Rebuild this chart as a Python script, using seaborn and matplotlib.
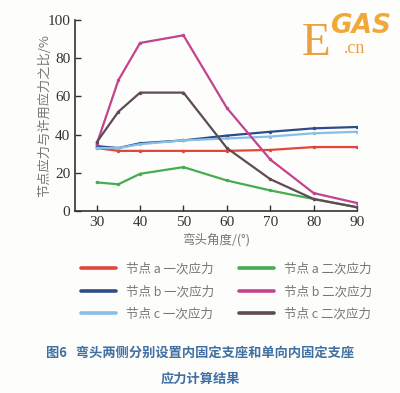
import matplotlib.pyplot as plt
import pandas as pd
import seaborn as sns

# data
angles = [30, 35, 40, 50, 60, 70, 80, 90]
a_primary = [33, 31.5, 31.5, 31.5, 31.5, 32, 33.5, 33.5]
a_secondary = [15, 14, 19.5, 23, 16, 10.8, 6.3, 2]
b_primary = [34, 33, 35.5, 37, 39.5, 41.5, 43.3, 44]
b_secondary = [35, 68.5, 88, 92, 54, 27, 9.4, 4.2]
c_primary = [33, 33, 35, 37, 38, 39, 40.7, 41.5]
c_secondary = [36, 52, 62, 62, 33, 16.7, 6.3, 2]

x_ticks = [30, 40, 50, 60, 70, 80, 90]
y_ticks = [0, 20, 40, 60, 80, 100]

labels = ["节点 a 一次应力", "节点 b 一次应力", "节点 c 一次应力",
          "节点 a 二次应力", "节点 b 二次应力", "节点 c 二次应力"]
series = [a_primary, b_primary, c_primary, a_secondary, b_secondary, c_secondary]
colors = ["#e2453a", "#2c4d86", "#86c0e6", "#45ad4f", "#c2448e", "#5e4b55"]

rows = []
for lab, vals in zip(labels, series):
    for x, v in zip(angles, vals):
        rows.append({"angle": x, "ratio": v, "series": lab})
df = pd.DataFrame(rows)

sns.set_style("ticks")
plt.rcParams['font.family'] = ['Noto Sans CJK SC', 'DejaVu Sans']

fig = plt.figure(figsize=(4, 3.93), dpi=100)
fig.patch.set_facecolor("#fdfdfb")
ax = fig.add_axes([0.1875, 0.463, 0.705, 0.486])
ax.set_facecolor("#fdfdfb")

sns.lineplot(data=df, x="angle", y="ratio", hue="series", hue_order=labels,
             palette=colors, marker="o", markersize=2.5, markeredgewidth=0,
             linewidth=1.6, ax=ax, legend=False)

ax.set_xlim(25, 90)
ax.set_ylim(0, 100)
ax.set_xticks(x_ticks)
ax.set_xticklabels([str(v) for v in x_ticks], fontfamily="Liberation Serif",
                   fontsize=11, color="#555555")
ax.set_yticks(y_ticks)
ax.set_yticklabels([str(v) for v in y_ticks], fontfamily="Liberation Serif",
                   fontsize=11, color="#555555")
sns.despine(ax=ax)
for s in ["left", "bottom"]:
    ax.spines[s].set_linewidth(1.2)
    ax.spines[s].set_color("#333333")
ax.tick_params(direction="in", length=4, width=1, colors="#333333")
ax.set_xlabel("弯头角度/(°)", fontsize=9, color="#777777", labelpad=3)
ax.set_ylabel("节点应力与许用应力之比/%", fontsize=9.5, color="#777777", labelpad=-3)

# legend in two columns below the axes
handles = [plt.Line2D([], [], color=c, linewidth=2.6) for c in colors]
fig.legend(handles, labels, loc="upper left", bbox_to_anchor=(0.175, 0.36),
           ncol=2, frameon=False, fontsize=9, handlelength=2.8,
           columnspacing=2.0, labelspacing=0.75, labelcolor="#777777")

# caption
fig.text(0.5, 0.092, "图6   弯头两侧分别设置内固定支座和单向内固定支座",
         ha="center", fontsize=9.5, color="#3f6fa3", fontweight="bold")
fig.text(0.5, 0.027, "应力计算结果", ha="center", fontsize=9.5,
         color="#3f6fa3", fontweight="bold")

# EGAS logo
fig.text(0.755, 0.86, "E", fontsize=34, color="#e8a040", family="Liberation Serif")
fig.text(0.825, 0.915, "GAS", fontsize=19, color="#f0a838", fontweight="bold",
         style="italic", family="DejaVu Sans")
fig.text(0.86, 0.865, ".cn", fontsize=13, color="#e8a040", family="Liberation Serif")

fig.savefig("out.png", dpi=100, facecolor=fig.get_facecolor())
